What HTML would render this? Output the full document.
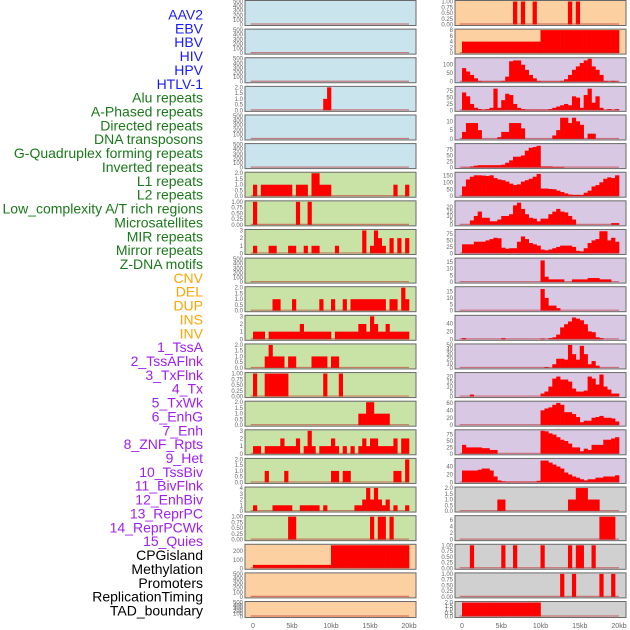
<!DOCTYPE html>
<html><head><meta charset="utf-8">
<style>
html,body{margin:0;padding:0;background:#fff;}
svg{display:block;font-family:"Liberation Sans",sans-serif;}
</style></head>
<body>
<svg id="chart" width="630" height="630" viewBox="0 0 630 630" xmlns="http://www.w3.org/2000/svg"></svg>
<script>
// ---- labels ----
const labelNames = ["AAV2","EBV","HBV","HIV","HPV","HTLV-1",
"Alu repeats","A-Phased repeats","Directed repeats","DNA transposons","G-Quadruplex forming repeats","Inverted repeats","L1 repeats","L2 repeats","Low_complexity A/T rich regions","Microsatellites","MIR repeats","Mirror repeats","Z-DNA motifs",
"CNV","DEL","DUP","INS","INV",
"1_TssA","2_TssAFlnk","3_TxFlnk","4_Tx","5_TxWk","6_EnhG","7_Enh","8_ZNF_Rpts","9_Het","10_TssBiv","11_BivFlnk","12_EnhBiv","13_ReprPC","14_ReprPCWk","15_Quies",
"CPGisland","Methylation","Promoters","ReplicationTiming","TAD_boundary"];
const labelGroups = [6,13,5,15,5];
const groupColors = ["#1a1aff","#1a7a1a","#ffa500","#a020f0","#000000"];

// ---- x axis ----
const xTickValues = [0,5,10,15,20];
const xTickLabels = ["0","5kb","10kb","15kb","20kb"];

// ---- tick label sets ----
const T500 = ["0","100","200","300","400","500"];
const T2 = ["0.0","0.5","1.0","1.5","2.0"];
const T1 = ["0.00","0.25","0.50","0.75","1.00"];
const T3 = ["0","1","2","3"];

// ---- left column data (40 bins of 0.5kb) ----
const L_empty = [0,0,0,0,0,0,0,0,0,0, 0,0,0,0,0,0,0,0,0,0, 0,0,0,0,0,0,0,0,0,0, 0,0,0,0,0,0,0,0,0,0];
const L_alu = [0,0,0,0,0,0,0,0,0,0, 0,0,0,0,0,0,0,0,1,2, 0,0,0,0,0,0,0,0,0,0, 0,0,0,0,0,0,0,0,0,0];
const L_l1 = [1,0,1,1,1,1,1,1,1,1, 0,1,1,1,0,2,2,1,1,1, 0,0,0,0,0,0,0,0,0,0, 0,0,0,0,0,0,1,0,0,1];
const L_lowc = [1,0,0,0,0,0,0,0,0,0, 0,1,0,0,1,0,0,0,0,0, 0,0,0,0,0,0,0,0,0,0, 0,0,0,0,0,0,0,0,0,0];
const L_micro = [1,0,0,0,1,1,0,0,0,1, 1,0,0,1,0,1,1,0,0,0, 0,1,0,0,0,0,0,0,3,0, 1,3,2,1,0,2,0,2,0,2];
const L_mirror = [0,0,0,0,0,1,1,0,0,0, 1,0,0,0,0,0,0,1,0,0, 1,0,0,1,0,1,1,1,1,1, 1,1,1,1,0,1,1,0,2,1];
const L_inv = [1,1,1,0,1,1,1,1,1,1, 1,1,2,1,1,1,1,1,1,1, 0,1,1,1,1,1,1,2,2,1, 3,2,1,1,2,1,1,1,1,1];
const L_l2 = [0,0,0,1,2,1,1,1,0,1, 1,0,0,0,0,1,1,1,1,0, 1,1,0,0,0,0,0,0,0,0, 0,0,0,0,0,0,0,0,0,0];
const L_s13 = [1,0,0,1,1,1,1,1,1,0, 0,0,0,0,0,0,0,0,1,0, 0,0,1,0,0,0,0,0,0,0, 0,0,0,0,0,0,0,0,0,0];
const L_s14 = [0,0,0,0,0,0,0,0,0,0, 0,0,0,0,0,0,0,0,0,0, 0,0,0,0,0,0,0,1,1,2, 2,1,1,1,1,0,0,0,0,0];
const L_s15 = [1,1,0,1,1,1,1,2,1,1, 1,2,0,1,3,1,0,1,1,1, 2,1,0,1,0,1,0,1,2,1, 2,2,1,1,1,1,2,0,2,2];
const L_s16 = [0,0,0,1,0,0,0,0,1,0, 0,0,0,0,0,0,0,0,0,0, 1,1,0,1,1,0,0,0,0,0, 0,0,0,0,0,0,1,1,0,2];
const L_s17 = [1,0,0,0,0,1,1,1,1,1, 0,0,1,1,1,1,1,0,1,0, 0,0,0,0,0,0,1,1,2,4, 2,4,2,1,2,0,1,0,0,1];
const L_s18 = [0,0,0,0,0,0,0,0,0,1, 1,0,0,0,0,0,0,0,0,0, 0,0,0,0,0,0,0,0,0,0, 1,0,1,1,0,1,0,0,0,0];
const L_cpg = [40,40,40,40,40,40,40,40,40,40, 40,40,40,40,40,40,40,40,40,40, 270,270,270,270,270,270,270,270,270,270, 270,270,270,270,270,270,270,270,270,270];

// ---- right column data ----
const R_0 = [0,0,0,0,0,0,0,0,0,0, 0,0,0,1,0,1,0,0,1,0, 0,0,0,0,0,0,0,1,0,1, 0,0,0,0,0,0,0,0,0,0];
const R_1 = [4,4,4,4,4,4,4,4,4,4, 4,4,4,4,4,4,4,4,4,4, 8,8,8,8,8,8,8,8,8,8, 8,8,8,8,8,8,8,8,8,8];
const R_2 = [80,60,40,20,5,2,2,2,2,2, 5,30,120,125,125,100,70,40,20,5, 2,2,2,2,2,5,15,40,70,90, 110,125,135,90,70,40,5,2,5,2];
const R_3 = [70,55,25,10,5,3,5,10,85,10, 40,65,60,25,10,5,3,3,3,3, 3,3,5,10,15,20,25,20,55,50, 10,60,85,30,55,10,2,5,2,5];
const R_4 = [4,9,9,9,5,0,0,0,0,1, 4,4,9,9,9,6,0,0,0,0, 0,0,0,2,5,12,12,9,12,10, 8,0,3,3,0,0,0,0,0,0];
const R_5 = [1,1,5,8,10,10,10,10,10,10, 12,20,30,45,45,50,70,82,85,90, 5,5,5,3,3,3,0,0,0,0, 0,0,0,0,0,0,0,0,0,0];
const R_6 = [70,120,140,150,150,148,145,150,130,120, 115,105,90,80,85,105,115,125,140,160, 55,55,52,50,40,30,20,12,10,10, 10,25,40,70,80,100,125,135,130,150];
const R_7 = [0,0,5,10,15,8,8,4,4,6, 10,10,12,22,25,18,12,8,7,4, 7,7,12,15,18,15,14,10,6,0, 0,0,0,0,0,0,0,0,2,2];
const R_8 = [35,35,35,45,45,45,50,55,60,58, 22,18,20,20,45,65,55,40,35,30, 15,12,15,20,25,30,30,30,25,10, 8,20,40,50,55,85,85,50,60,45];
const R_9 = [0,0,0,0,0,0,0,0,0,0, 0,0,0,0,0,0,0,0,0,0, 16,4,2,2,2,2,0,0,2,2, 2,2,3,3,3,2,2,2,0,0];
const R_10 = [0,0,0,0,0,0,0,0,0,0, 0,0,0,0,0,0,0,0,0,0, 17,10,4,4,2,0,0,0,0,0, 0,0,0,0,0,0,0,0,0,0];
const R_11 = [3,0,0,0,0,0,0,0,0,0, 3,0,0,0,0,0,0,0,0,0, 2,0,3,5,12,30,38,45,55,52, 48,38,20,18,5,3,0,0,0,0];
const R_12 = [0,0,0,0,0,0,0,0,0,0, 0,0,0,0,0,0,0,0,0,0, 0,2,0,8,20,20,18,50,30,18, 48,30,8,15,5,0,0,0,0,0];
const R_13 = [0,0,2,0,0,0,0,0,0,0, 0,0,0,0,0,0,0,0,0,0, 3,5,10,18,20,17,17,15,8,5, 5,6,20,18,12,22,10,7,3,3];
const R_14 = [0,0,0,0,0,0,0,0,0,0, 0,0,0,0,0,0,0,0,0,0, 40,45,48,55,60,55,35,35,30,22, 8,12,12,20,22,25,20,20,18,10];
const R_15 = [35,25,25,25,25,22,22,15,15,0, 0,0,0,0,0,0,0,0,0,0, 90,88,80,75,65,55,50,40,25,25, 10,20,15,35,35,35,55,55,60,65];
const R_16 = [30,30,30,30,32,35,35,30,15,5, 3,2,2,2,2,2,2,2,2,4, 55,55,50,45,40,35,25,20,15,12, 8,5,8,8,12,12,15,15,15,18];
const R_17 = [0,0,0,0,0,0,0,0,0,1, 1,0,0,0,0,0,0,0,0,0, 0,0,0,0,0,0,0,1,1,2, 2,2,1,1,1,0,0,0,0,0];
const R_18 = [0,0,0,0,0,0,0,0,0,0, 0,0,0,0,0,0,0,0,0,0, 0,0,0,0,0,0,0,0,0,0, 0,0,0,0,0,7,7,7,7,0];
const R_19 = [0,0,1,0,0,0,0,0,0,0, 1,0,0,1,0,0,0,0,0,0, 1,0,0,0,0,0,0,1,0,1, 1,0,0,1,0,0,0,0,0,0];
const R_20 = [0,0,0,0,0,0,0,0,0,0, 0,0,0,0,0,0,0,0,0,0, 0,0,0,0,0,1,0,0,1,0, 0,0,0,0,0,1,0,0,1,0];
const R_21 = [2,2,2,2,2,2,2,2,2,2, 2,2,2,2,2,2,2,2,2,2, 0,0,0,0,0,0,0,0,0,0, 0,0,0,0,0,0,0,0,0,0];

const leftValues = [L_empty,L_empty,L_empty,L_alu,L_empty,L_empty,L_l1,L_lowc,L_micro,L_empty,L_mirror,L_inv,L_l2,L_s13,L_s14,L_s15,L_s16,L_s17,L_s18,L_cpg,L_empty,L_empty];
const leftTicks = [T500,T500,T500,T2,T500,T500,T2,T1,T3,T500,T2,T3,T2,T1,T2,T3,T2,["0","1","2","3","4"],T1,["0","100","200"],T500,T500];
const leftMax = [500,500,500,2,500,500,2,1,3,500,2,3,2,1,2,3,2,4,1,270,500,500];
const leftBg = ["#c9e4ec","#c9e4ec","#c9e4ec","#c9e4ec","#c9e4ec","#c9e4ec","#c9e2a6","#c9e2a6","#c9e2a6","#c9e2a6","#c9e2a6","#c9e2a6","#c9e2a6","#c9e2a6","#c9e2a6","#c9e2a6","#c9e2a6","#c9e2a6","#c9e2a6","#fdd0a2","#fdd0a2","#fdd0a2"];

const rightValues = [R_0,R_1,R_2,R_3,R_4,R_5,R_6,R_7,R_8,R_9,R_10,R_11,R_12,R_13,R_14,R_15,R_16,R_17,R_18,R_19,R_20,R_21];
const rightTicks = [T1,["0","2","4","6","8"],["0","50","100"],["0","25","50","75"],["0","5","10"],["0","25","50","75"],["0","50","100","150"],["0","5","10","15","20"],["0","25","50","75"],["0","5","10","15"],["0","5","10","15"],["0","20","40"],["0","10","20","30","40","50"],["0","5","10","15","20"],["0","20","40","60"],["0","25","50","75"],["0","20","40"],T2,["0","2","4","6"],T1,T1,T2];
const rightMax = [1,8,135,90,13,95,165,26,88,17,18,58,50,23,62,90,58,2,7,1,1,2];
const rightBg = ["#fdd0a2","#fdd0a2","#d9c8e3","#d9c8e3","#d9c8e3","#d9c8e3","#d9c8e3","#d9c8e3","#d9c8e3","#d9c8e3","#d9c8e3","#d9c8e3","#d9c8e3","#d9c8e3","#d9c8e3","#d9c8e3","#d9c8e3","#d0d0d0","#d0d0d0","#d0d0d0","#d0d0d0","#d0d0d0"];

const NS = "http://www.w3.org/2000/svg";
const svg = document.getElementById("chart");
function mk(tag, attrs, parent){const e=document.createElementNS(NS,tag);for(const k in attrs)e.setAttribute(k,attrs[k]);(parent||svg).appendChild(e);return e;}

// labels
let li = 0;
labelGroups.forEach((n,g)=>{
  for(let k=0;k<n;k++){
    const t = mk("text",{x:203,y:19.5+li*13.86,"text-anchor":"end","font-size":"14",fill:groupColors[g]});
    t.textContent = labelNames[li];
    
    
    li++;
  }
});

const PITCH = 28.62, BIN = 0.5;
function drawColumn(x0, x1, xData0, xData20, values, ticks, maxes, bgs, col){
  const xs = kb => xData0 + kb*(xData20-xData0)/20;
  values.forEach((vals,i)=>{
    const top = 0.5 + i*PITCH;
    const PANEL_H = (i === values.length-1) ? 16 : 25;
    const g = mk("g",{});
    
    
    const bg = mk("rect",{x:x0,y:top,width:x1-x0,height:PANEL_H,fill:bgs[i],stroke:"#6a6a6a","stroke-width":1},g);
    
    
    const y0 = top+PANEL_H-1, ys = v => y0 - v/maxes[i]*(PANEL_H-2);
    vals.forEach((v,b)=>{
      if(v<=0) return;
      const r = mk("rect",{x:xs(b*BIN),y:ys(v),width:xs((b+1)*BIN)-xs(b*BIN)+0.3,height:y0-ys(v),fill:"#ff0000"},g);
      
      
    });
    const bl = mk("line",{x1:xs(-0.3),x2:xs(20),y1:y0-0.5,y2:y0-0.5,stroke:"rgba(190,40,40,0.55)","stroke-width":1.2},g);
    
    
    ticks[i].forEach(tl=>{
      const t = mk("text",{x:x0-2,y:ys(parseFloat(tl))+2,"text-anchor":"end","font-size":"6",fill:"#666"},g);
      t.textContent = tl;
      
      
    });
  });
  xTickValues.forEach((v,k)=>{
    const t = mk("text",{x:xs(v),y:628,"text-anchor":"middle","font-size":"7",fill:"#666"});
    t.textContent = xTickLabels[k];
    
    
  });
}
drawColumn(245,416,253,409,leftValues,leftTicks,leftMax,leftBg,'left');
drawColumn(455,626,462,619,rightValues,rightTicks,rightMax,rightBg,'right');
</script>
</body></html>
